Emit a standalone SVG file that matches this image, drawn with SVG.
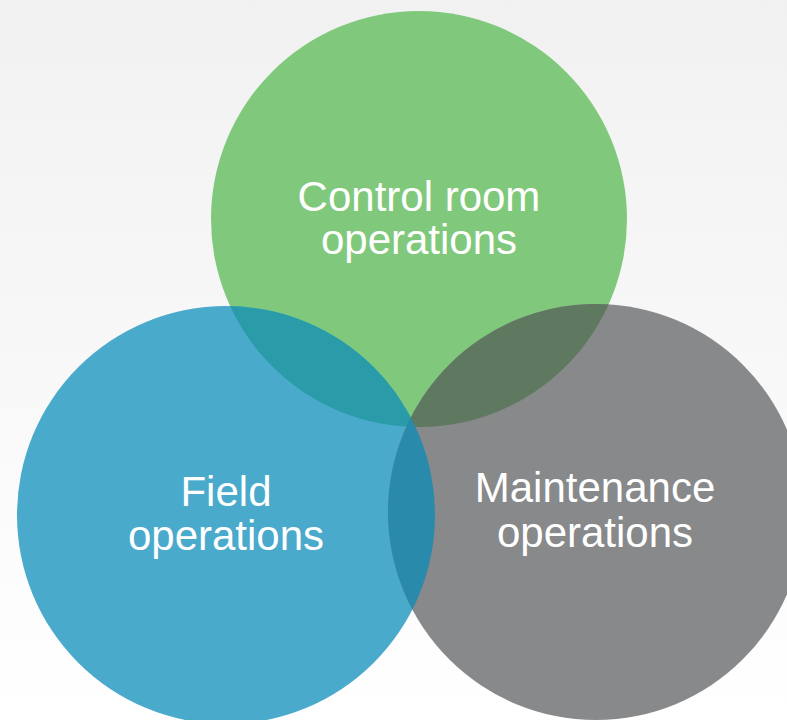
<svg xmlns="http://www.w3.org/2000/svg" width="787" height="720" viewBox="0 0 787 720">
<style>
.lbl{font-family:"Liberation Sans",Arial,sans-serif;font-size:42px;fill:#ffffff;text-anchor:middle}
</style>
<defs>
<linearGradient id="bg" x1="0" y1="0" x2="0" y2="1">
<stop offset="0" stop-color="#f1f1f1"/>
<stop offset="1" stop-color="#ffffff"/>
</linearGradient>
<clipPath id="cG"><circle cx="419" cy="219" r="208"/></clipPath>
<clipPath id="cB"><circle cx="226" cy="515" r="209"/></clipPath>
</defs>
<rect width="787" height="720" fill="url(#bg)"/>
<g id="connectors"></g>
<g id="control">
<circle cx="419" cy="219" r="208" fill="#80c97c"/>
</g>
<g id="field">
<circle cx="226" cy="515" r="209" fill="#4aaacc"/>
</g>
<g id="maintenance">
<circle cx="596" cy="512" r="208" fill="#87898b"/>
</g>
<g id="overlaps">
<circle cx="226" cy="515" r="209" fill="#2a9ba8" clip-path="url(#cG)"/>
<circle cx="596" cy="512" r="208" fill="#5f7860" clip-path="url(#cG)"/>
<g clip-path="url(#cB)"><circle cx="596" cy="512" r="208" fill="#2a8aab"/></g>
</g>
<g id="labels">
<text class="lbl" x="419" y="211">Control room</text>
<text class="lbl" x="419" y="254">operations</text>
<text class="lbl" x="226" y="506">Field</text>
<text class="lbl" x="226" y="550">operations</text>
<text class="lbl" x="595" y="502">Maintenance</text>
<text class="lbl" x="595" y="547">operations</text>
</g>
</svg>
